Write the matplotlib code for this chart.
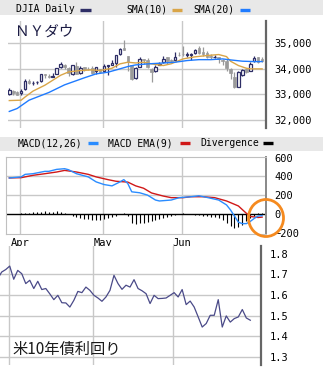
import numpy as np
import matplotlib
matplotlib.use('Agg')
import matplotlib.pyplot as plt
from matplotlib.patches import Rectangle, Ellipse
from matplotlib.lines import Line2D
from matplotlib.ticker import FuncFormatter

# trading day index 0 = Mar 29 ... 64 = Jun 29
opens = [33000, 33140, 33100, 33054, 33200, 33530, 33440, 33490, 33520, 33780,
         33730, 33700, 33790, 34060, 34170, 34050, 33800, 34130, 33830, 34060,
         34000, 34020, 33910, 34000, 33900, 34100, 34170, 34230, 34570, 34820,
         34500, 34140, 33650, 34080, 34380, 34360, 34000, 33900, 34150, 34250,
         34450, 34360, 34330, 34560, 34600, 34560, 34550, 34620, 34800, 34650,
         34610, 34520, 34470, 34460, 34360, 34300, 34000, 33680, 33300, 33750,
         34000, 33910, 34300, 34460, 34400]
highs = [33260, 33190, 33120, 33200, 33620, 33600, 33530, 33540, 33810, 33800,
         33780, 33830, 34050, 34260, 34190, 34060, 34140, 34250, 34130, 34090,
         34090, 34100, 34090, 34010, 34190, 34140, 34330, 34550, 34820, 35120,
         34520, 34150, 34070, 34460, 34400, 34440, 34020, 34140, 34260, 34490,
         34460, 34400, 34650, 34650, 34890, 34650, 34620, 34790, 34880, 34850,
         34700, 34580, 34560, 34470, 34400, 34400, 34050, 33880, 33910, 33990,
         34050, 34250, 34500, 34480, 34480]
lows = [32960, 32990, 32970, 32990, 33190, 33410, 33370, 33390, 33500, 33640,
        33630, 33680, 33780, 34050, 33990, 33740, 33770, 33780, 33810, 33900,
        33950, 33790, 33800, 33840, 33890, 33750, 34170, 34070, 34560, 34740,
        33900, 33580, 33600, 34070, 34200, 34030, 33473, 33880, 34140, 34240,
        34200, 34260, 34330, 34500, 34500, 34480, 34350, 34600, 34580, 34520,
        34430, 34400, 34410, 34240, 34150, 33900, 33620, 33270, 33280, 33720,
        33830, 33900, 34250, 34230, 34250]
closes = [33171, 33067, 32982, 33153, 33527, 33430, 33446, 33504, 33801, 33746,
          33677, 33730, 34036, 34200, 34078, 33821, 34137, 33815, 34043, 33981,
          33984, 33820, 34060, 33875, 34113, 34133, 34230, 34548, 34777, 34743,
          34269, 33587, 34021, 34382, 34328, 34061, 33896, 34084, 34208, 34394,
          34312, 34323, 34465, 34529, 34575, 34600, 34577, 34756, 34630, 34599,
          34447, 34466, 34480, 34393, 34299, 34033, 33823, 33290, 33876, 33945,
          33874, 34196, 34433, 34283, 34292]

sma10_idx = [0, 3, 4, 6, 9, 11, 13, 15, 18, 21, 23, 26, 28, 30, 32, 34, 36, 39,
             41, 44, 47, 50, 53, 55, 56, 58, 60, 61, 64]
sma10_val = [32760, 32775, 32900, 33130, 33360, 33555, 33750, 33880, 33935,
             33960, 33935, 34025, 34195, 34260, 34230, 34260, 34195, 34130,
             34200, 34390, 34470, 34520, 34560, 34480, 34300, 34130, 34025,
             34000, 34000]
sma20_idx = [0, 2, 5, 10, 14, 19, 22, 25, 28, 30, 32, 35, 38, 42, 45, 48, 51,
             54, 56, 59, 62, 64]
sma20_val = [32335, 32450, 32775, 33075, 33375, 33650, 33805, 33870, 34000,
             34090, 34155, 34195, 34220, 34260, 34325, 34360, 34360, 34390,
             34350, 34300, 34285, 34285]

macd_idx = [0, 3, 4, 6, 9, 10, 12, 14, 15, 17, 20, 22, 24, 26, 28, 29, 30, 31,
            33, 35, 37, 38, 41, 43, 46, 48, 50, 53, 55, 56, 57, 58, 59, 60, 61,
            62, 63, 64]
macd_val = [384, 395, 422, 429, 454, 454, 475, 482, 471, 429, 395, 342, 314,
            300, 342, 366, 325, 237, 227, 202, 150, 140, 150, 175, 185, 195,
            178, 150, 98, 45, -20, -85, -100, -100, -77, -45, -20, -15]
ema_idx = [0, 3, 6, 9, 12, 14, 17, 20, 22, 25, 27, 30, 32, 34, 36, 39, 41, 44,
           46, 49, 52, 55, 58, 60, 61, 63, 64]
ema_val = [384, 387, 412, 429, 447, 464, 447, 422, 395, 366, 349, 340, 300,
           275, 225, 192, 175, 175, 185, 185, 175, 140, 87, 10, -24, -35, -31]
divergence = [0, 0, 5, 8, 15, 15, 20, 20, 25, 30, 20, 25, 30, 20, 10, 0, -15,
              -35, -45, -50, -55, -60, -65, -60, -55, -45, -35, -20, 5, 15,
              -20, -95, -100, -95, -90, -80, -70, -60, -50, -40, -30, -15, -5,
              5, 8, 5, 0, -5, -10, -15, -20, -25, -35, -45, -60, -90, -130,
              -150, -140, -110, -70, -40, -20, 10, 15]

# US 10y yield, day index -1 (Mar 26) ... 63 (Jun 28)
yields = [1.626, 1.679, 1.711, 1.723, 1.740, 1.676, 1.719, 1.703, 1.655, 1.671,
          1.631, 1.666, 1.626, 1.631, 1.605, 1.577, 1.598, 1.562, 1.561, 1.541,
          1.574, 1.617, 1.611, 1.638, 1.622, 1.598, 1.585, 1.569, 1.590, 1.622,
          1.695, 1.655, 1.627, 1.647, 1.638, 1.674, 1.631, 1.620, 1.606, 1.558,
          1.598, 1.582, 1.583, 1.585, 1.598, 1.611, 1.590, 1.626, 1.553, 1.570,
          1.541, 1.493, 1.444, 1.461, 1.501, 1.501, 1.577, 1.444, 1.498, 1.468,
          1.485, 1.493, 1.529, 1.488, 1.477]

months = ['Apr', 'May', 'Jun']
month_start = [3, 24, 44]

W, H = 323, 377
fig = plt.figure(figsize=(W / 100, H / 100), dpi=100)
mono = 'DejaVu Sans Mono'
grid_c = '#c8c8c8'


def box(l, t, r, b):
    return [l / W, 1 - b / H, (r - l) / W, (b - t) / H]


def px_lim(l, r, x0, step):
    return ((l - x0) / step, (r - x0) / step)


def fy(y):
    return 1 - y / H


gpos = [m - 0.3 for m in month_start]

# --- price panel
ax1 = fig.add_axes(box(8, 21, 266, 128))
ax1.set_xlim(*px_lim(8, 266, 9.3, 3.95))
ax1.set_ylim(31687, 35872)
for g in gpos:
    ax1.axvline(g, color=grid_c, lw=1, zorder=0)
for v in [32000, 33000, 34000, 35000]:
    ax1.axhline(v, color=grid_c, lw=1, zorder=0)

x = np.arange(len(closes))
o = np.array(opens); c = np.array(closes)
up = c >= o
navy = '#2e2e66'
down_c = '#9a9a9a'
ax1.vlines(x[up], np.array(lows)[up], np.array(highs)[up], color=navy, lw=0.9, zorder=2)
ax1.vlines(x[~up], np.array(lows)[~up], np.array(highs)[~up], color=down_c, lw=0.9, zorder=2)
ax1.bar(x[up], (c - o)[up], bottom=o[up], width=0.65, facecolor='white',
        edgecolor=navy, linewidth=0.9, zorder=3)
ax1.bar(x[~up], (o - c)[~up], bottom=c[~up], width=0.65, facecolor=down_c,
        edgecolor=down_c, linewidth=0.5, zorder=3)
ax1.plot(sma10_idx, sma10_val, color='#d9a548', lw=1.0, zorder=4)
ax1.plot(sma20_idx, sma20_val, color='#1f7bff', lw=1.0, zorder=4)

ax1.set_yticks([32000, 33000, 34000, 35000])
ax1.yaxis.set_major_formatter(FuncFormatter(lambda v, p: f'{v:,.0f}'))
ax1.yaxis.tick_right()
ax1.tick_params(axis='y', length=0, pad=6, labelsize=7.5)
ax1.set_xticks([])
for lab in ax1.get_yticklabels():
    lab.set_family(mono)
for s in ['top', 'left', 'bottom']:
    ax1.spines[s].set_visible(False)
ax1.spines['right'].set_color('#666666')
ax1.spines['right'].set_linewidth(1.6)
ax1.text(15 / 258 - 8 / 258, 0.9, 'ＮＹダウ', transform=ax1.transAxes,
         family=['Noto Sans CJK JP', 'DejaVu Sans'], fontsize=10.5,
         color='#1c1c44', va='center', ha='left')

# --- MACD panel
ax2 = fig.add_axes(box(6, 157, 266, 234))
ax2.set_xlim(*px_lim(6, 266, 9.3, 3.95))
ax2.set_ylim(-210, 606)
for g in gpos:
    ax2.axvline(g, color=grid_c, lw=1, zorder=0)
for v in [200, 400]:
    ax2.axhline(v, color=grid_c, lw=1, zorder=0)
ax2.axhline(0, color='black', lw=1, zorder=1)
ax2.vlines(x, 0, divergence, color='black', lw=0.8, zorder=2)
ax2.plot(ema_idx, ema_val, color='#d01818', lw=1.0, zorder=3)
ax2.plot(macd_idx, macd_val, color='#2a8cff', lw=1.0, zorder=4)
ax2.set_yticks([-200, 0, 200, 400, 600])
ax2.yaxis.tick_right()
ax2.tick_params(axis='y', length=0, pad=6, labelsize=7.5)
ax2.set_xticks(gpos)
ax2.set_xticklabels(months)
ax2.tick_params(axis='x', length=0, pad=3, labelsize=7.5)
for lab in ax2.get_yticklabels() + ax2.get_xticklabels():
    lab.set_family(mono)
for s in ['top', 'left', 'bottom']:
    ax2.spines[s].set_color('#c0c0c0')
    ax2.spines[s].set_linewidth(0.8)
ax2.spines['right'].set_color('#888888')
ax2.spines['right'].set_linewidth(1.4)

# --- yield panel
ax3 = fig.add_axes(box(0, 246, 261, 365))
ax3.set_xlim(*px_lim(0, 261, 1.7 - 4.01, 4.01))
ax3.set_ylim(1.2597, 1.8374)
for g in gpos:
    ax3.axvline(g, color=grid_c, lw=1, zorder=0)
for v in [1.3, 1.4, 1.5, 1.6, 1.7]:
    ax3.axhline(v, color=grid_c, lw=1, zorder=0)
ax3.plot(np.arange(-1, len(yields) - 1), yields, color='#4a4a88', lw=0.9)
ax3.set_yticks([1.3, 1.4, 1.5, 1.6, 1.7, 1.8])
ax3.yaxis.tick_right()
ax3.tick_params(axis='y', length=0, pad=6, labelsize=7.5)
ax3.set_xticks([])
for lab in ax3.get_yticklabels():
    lab.set_family(mono)
for s in ['top', 'left', 'bottom']:
    ax3.spines[s].set_visible(False)
ax3.spines['right'].set_color('#666666')
ax3.spines['right'].set_linewidth(1.6)
fig.text(12 / W, fy(349), '米10年債利回り', family=['Noto Sans CJK JP', 'DejaVu Sans'],
         fontsize=11, color='#1a1a1a', va='center', ha='left')

# --- legend bands
fig.add_artist(Rectangle((0, fy(15)), 1, 15 / H, transform=fig.transFigure,
                         facecolor='#e8e8e8', edgecolor='none', zorder=0))
fig.add_artist(Rectangle((0, fy(151)), 1, 14 / H, transform=fig.transFigure,
                         facecolor='#e8e8e8', edgecolor='none', zorder=0))


def legend_item(label, tx, dx0, dx1, y, color):
    fig.text(tx / W, fy(y), label, family=mono, fontsize=7, va='center', ha='left')
    fig.add_artist(Line2D([dx0 / W, dx1 / W], [fy(y), fy(y)], transform=fig.transFigure,
                          color=color, lw=2.4, solid_capstyle='butt'))


legend_item('DJIA Daily', 16, 80, 91, 9.5, navy)
legend_item('SMA(10)', 126, 172, 182, 9.5, '#d9a548')
legend_item('SMA(20)', 193, 240, 250, 9.5, '#1f7bff')
legend_item('MACD(12,26)', 18, 88, 98, 143.5, '#2a8cff')
legend_item('MACD EMA(9)', 108, 180, 190, 143.5, '#d01818')
legend_item('Divergence', 200, 263, 273, 143.5, 'black')

# orange highlight circle
fig.add_artist(Ellipse((266 / W, fy(218)), 35 / W, 37 / H, transform=fig.transFigure,
                       fill=False, edgecolor='#f58a1f', lw=2.0, zorder=10))

fig.savefig('out.png', dpi=100)
